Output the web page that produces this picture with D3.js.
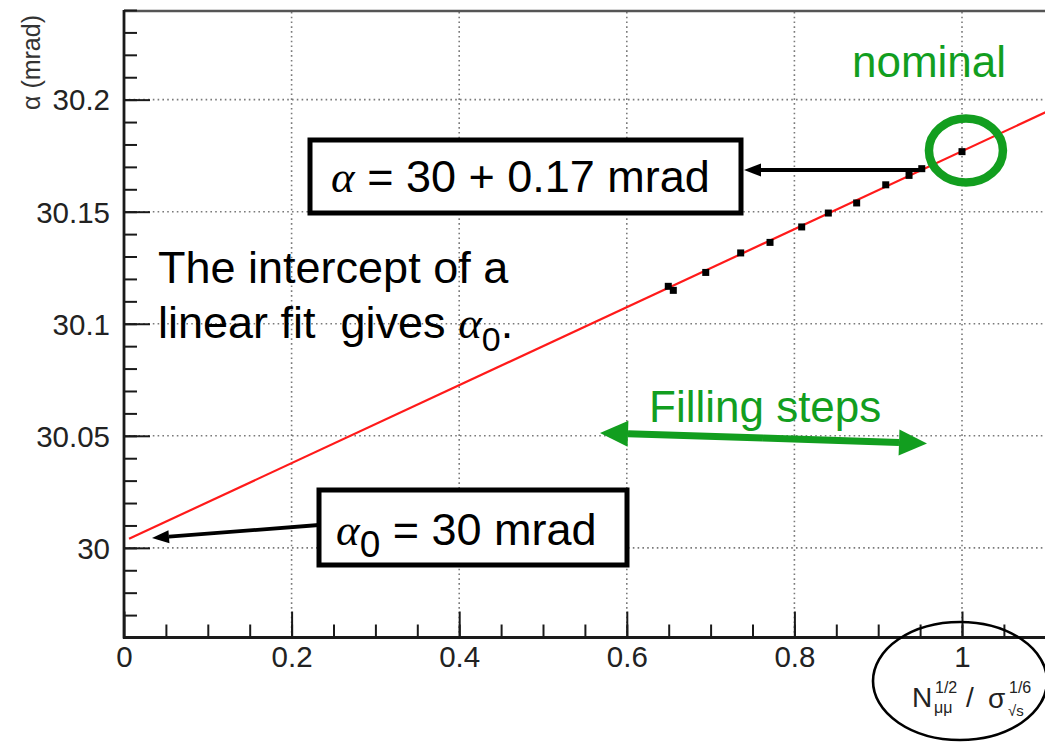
<!DOCTYPE html>
<html>
<head>
<meta charset="utf-8">
<script src="https://cdn.jsdelivr.net/npm/d3@7"></script>
<style>
  html, body { margin: 0; padding: 0; background: #fff; }
  svg { display: block; }
  text { font-family: "Liberation Sans", Arial, Helvetica, sans-serif; }
</style>
</head>
<body>
<svg id="chart" width="1045" height="742"></svg>
<script>
// ---------------- data ----------------
const xValues = [0.6495, 0.6555, 0.6942, 0.7359, 0.7709, 0.8087, 0.8405, 0.8743, 0.9090, 0.9368, 0.9520, 1.0000];
const yValues = [30.1167, 30.1149, 30.1229, 30.1316, 30.1363, 30.1432, 30.1494, 30.1539, 30.1620, 30.1662, 30.1692, 30.1768];
const fitIntercept = 30.003;
const fitSlope = 0.174;
const fitRange = [0.006, 1.1];
const xTicks = [0, 0.2, 0.4, 0.6, 0.8, 1];
const xTickLabels = ["0", "0.2", "0.4", "0.6", "0.8", "1"];
const yTicks = [30, 30.05, 30.1, 30.15, 30.2];
const yTickLabels = ["30", "30.05", "30.1", "30.15", "30.2"];
const xDomain = [0, 1.1];
const yDomain = [29.96, 30.24];

// ---------------- setup ----------------
const svg = d3.select("#chart");
const L = 124, T = 10, B = 637.5, R = 124 + 838 * 1.1;
const x = d3.scaleLinear().domain(xDomain).range([L, R]);
const y = d3.scaleLinear().domain(yDomain).range([B, T]);
const GREEN = "#129e1f";
const AXIS = "#1a1a1a";

// grid (dotted)
const grid = svg.append("g").attr("stroke", "#7a7a7a").attr("stroke-width", 1.6)
  .attr("stroke-dasharray", "1.6,3.2");
grid.selectAll("line.v").data(xTicks.filter(d => d > 0)).enter().append("line")
  .attr("x1", d => x(d)).attr("x2", d => x(d)).attr("y1", B).attr("y2", T);
grid.selectAll("line.h").data(yTicks).enter().append("line")
  .attr("x1", L).attr("x2", R).attr("y1", d => y(d)).attr("y2", d => y(d));

// top frame
svg.append("line").attr("x1", L).attr("x2", R).attr("y1", T + 1).attr("y2", T + 1)
  .attr("stroke", "#555").attr("stroke-width", 2.5);

// y axis
const yMinor = d3.range(29.97, 30.2401, 0.01).map(v => +v.toFixed(2));
const yAxisMinor = d3.axisLeft(y).tickValues(yMinor).tickSize(-13).tickFormat("").tickSizeOuter(0);
svg.append("g").attr("transform", `translate(${L},0)`).call(yAxisMinor)
  .call(g => g.select(".domain").remove())
  .call(g => g.selectAll("line").attr("stroke", AXIS).attr("stroke-width", 2));
const yAxisMajor = d3.axisLeft(y).tickValues(yTicks).tickSize(-26).tickPadding(14)
  .tickFormat((d, i) => yTickLabels[i]).tickSizeOuter(0);
svg.append("g").attr("transform", `translate(${L},0)`).call(yAxisMajor)
  .call(g => g.select(".domain").remove())
  .call(g => g.selectAll("line").attr("stroke", AXIS).attr("stroke-width", 2))
  .call(g => g.selectAll("text").attr("font-size", 29.5).attr("fill", "#222")
    .attr("font-family", "Liberation Sans, Arial, sans-serif").attr("dy", "0.35em"));

// x axis
const xMinor = d3.range(0.05, 1.1001, 0.05).map(v => +v.toFixed(2));
const xAxisMinor = d3.axisBottom(x).tickValues(xMinor).tickSize(-13).tickFormat("").tickSizeOuter(0);
svg.append("g").attr("transform", `translate(0,${B})`).call(xAxisMinor)
  .call(g => g.select(".domain").remove())
  .call(g => g.selectAll("line").attr("stroke", AXIS).attr("stroke-width", 2));
const xAxisMajor = d3.axisBottom(x).tickValues(xTicks).tickSize(-26).tickPadding(9)
  .tickFormat((d, i) => xTickLabels[i]).tickSizeOuter(0);
svg.append("g").attr("transform", `translate(0,${B})`).call(xAxisMajor)
  .call(g => g.select(".domain").remove())
  .call(g => g.selectAll("line").attr("stroke", AXIS).attr("stroke-width", 2))
  .call(g => g.selectAll("text").attr("font-size", 29.5).attr("fill", "#222")
    .attr("font-family", "Liberation Sans, Arial, sans-serif"));

// axis lines
svg.append("line").attr("x1", L).attr("x2", L).attr("y1", T).attr("y2", B + 1)
  .attr("stroke", AXIS).attr("stroke-width", 2.8);
svg.append("line").attr("x1", L - 1).attr("x2", R).attr("y1", B).attr("y2", B)
  .attr("stroke", AXIS).attr("stroke-width", 2.8);

// y axis title
svg.append("text").attr("transform", "translate(40,15) rotate(-90)")
  .attr("text-anchor", "end").attr("font-size", 25).attr("fill", "#333")
  .text("α (mrad)");

// fit line
const fitLine = d3.line().x(d => x(d)).y(d => y(fitIntercept + fitSlope * d));
svg.append("path").datum(fitRange).attr("d", fitLine)
  .attr("stroke", "#ff1a1a").attr("stroke-width", 2.2).attr("fill", "none");

// data points
svg.append("g").selectAll("rect").data(xValues).enter().append("rect")
  .attr("x", (d) => x(d) - 3.5).attr("y", (d, i) => y(yValues[i]) - 3.5)
  .attr("width", 7).attr("height", 7).attr("fill", "#000");

// ---------------- annotations ----------------
function arrow(x1, y1, x2, y2, w, hl, hw, color) {
  const a = Math.atan2(y2 - y1, x2 - x1);
  const bx = x2 - hl * Math.cos(a), by = y2 - hl * Math.sin(a);
  svg.append("line").attr("x1", x1).attr("y1", y1).attr("x2", bx).attr("y2", by)
    .attr("stroke", color).attr("stroke-width", w);
  const px = -Math.sin(a) * hw, py = Math.cos(a) * hw;
  svg.append("polygon")
    .attr("points", `${x2},${y2} ${bx + px},${by + py} ${bx - px},${by - py}`)
    .attr("fill", color);
}

// green nominal circle
svg.append("ellipse").attr("cx", x(1.0047)).attr("cy", y(30.1773)).attr("rx", 37).attr("ry", 32)
  .attr("fill", "none").attr("stroke", GREEN).attr("stroke-width", 8.5);
svg.append("text").attr("x", 852).attr("y", 77).attr("font-size", 44).attr("fill", GREEN).text("nominal");

// box 1
arrow(922, 170, 744, 170, 4, 17, 6.5, "#000");
svg.append("rect").attr("x", 310).attr("y", 140).attr("width", 431).attr("height", 73)
  .attr("fill", "#fff").attr("stroke", "#000").attr("stroke-width", 5);
const t1 = svg.append("text").attr("x", 331).attr("y", 192).attr("font-size", 45).attr("fill", "#000");
t1.append("tspan").attr("font-family", "Liberation Serif, DejaVu Serif, serif").attr("font-style", "italic").text("α");
t1.append("tspan").text(" = 30 + 0.17 mrad");

// box 2
arrow(319, 525, 152, 538, 3.8, 17, 6.5, "#000");
svg.append("rect").attr("x", 319).attr("y", 490).attr("width", 308).attr("height", 75)
  .attr("fill", "#fff").attr("stroke", "#000").attr("stroke-width", 5);
const t2 = svg.append("text").attr("x", 336).attr("y", 545).attr("font-size", 45).attr("fill", "#000");
t2.append("tspan").attr("font-family", "Liberation Serif, DejaVu Serif, serif").attr("font-style", "italic").text("α");
t2.append("tspan").attr("font-size", 37).attr("dy", 12).text("0");
t2.append("tspan").attr("dy", -12).text(" = 30 mrad");

// intercept text
svg.append("text").attr("x", 158).attr("y", 283).attr("font-size", 45).attr("fill", "#000")
  .text("The intercept of a");
const t3 = svg.append("text").attr("x", 158).attr("y", 338).attr("font-size", 45).attr("fill", "#000")
  .style("white-space", "pre");
t3.append("tspan").text("linear fit  gives ");
t3.append("tspan").attr("font-family", "Liberation Serif, DejaVu Serif, serif").attr("font-style", "italic").text("α");
t3.append("tspan").attr("font-size", 34).attr("dy", 13).text("0");
t3.append("tspan").attr("dy", -13).text(".");

// filling steps
svg.append("text").attr("x", 649).attr("y", 422).attr("font-size", 44).attr("fill", GREEN).text("Filling steps");
const mx = 763, my = 438;
arrow(mx, my, 600, 433, 7, 28, 13, GREEN);
arrow(mx, my, 927, 443.5, 7, 28, 13, GREEN);

// x-axis title with ellipse
svg.append("ellipse").attr("cx", 960).attr("cy", 681).attr("rx", 87).attr("ry", 59)
  .attr("fill", "none").attr("stroke", "#000").attr("stroke-width", 2.6);
const xt = svg.append("g").attr("fill", "#222");
xt.append("text").attr("x", 912).attr("y", 707).attr("font-size", 28).text("N");
xt.append("text").attr("x", 935).attr("y", 693).attr("font-size", 16).text("1/2");
xt.append("text").attr("x", 934).attr("y", 713).attr("font-size", 16).text("μμ");
xt.append("text").attr("x", 966).attr("y", 707).attr("font-size", 28).text("/");
xt.append("text").attr("x", 988).attr("y", 708).attr("font-size", 28).text("σ");
xt.append("text").attr("x", 1009).attr("y", 693).attr("font-size", 16).text("1/6");
xt.append("text").attr("x", 1008).attr("y", 716).attr("font-size", 15).text("√s");
</script>
</body>
</html>
